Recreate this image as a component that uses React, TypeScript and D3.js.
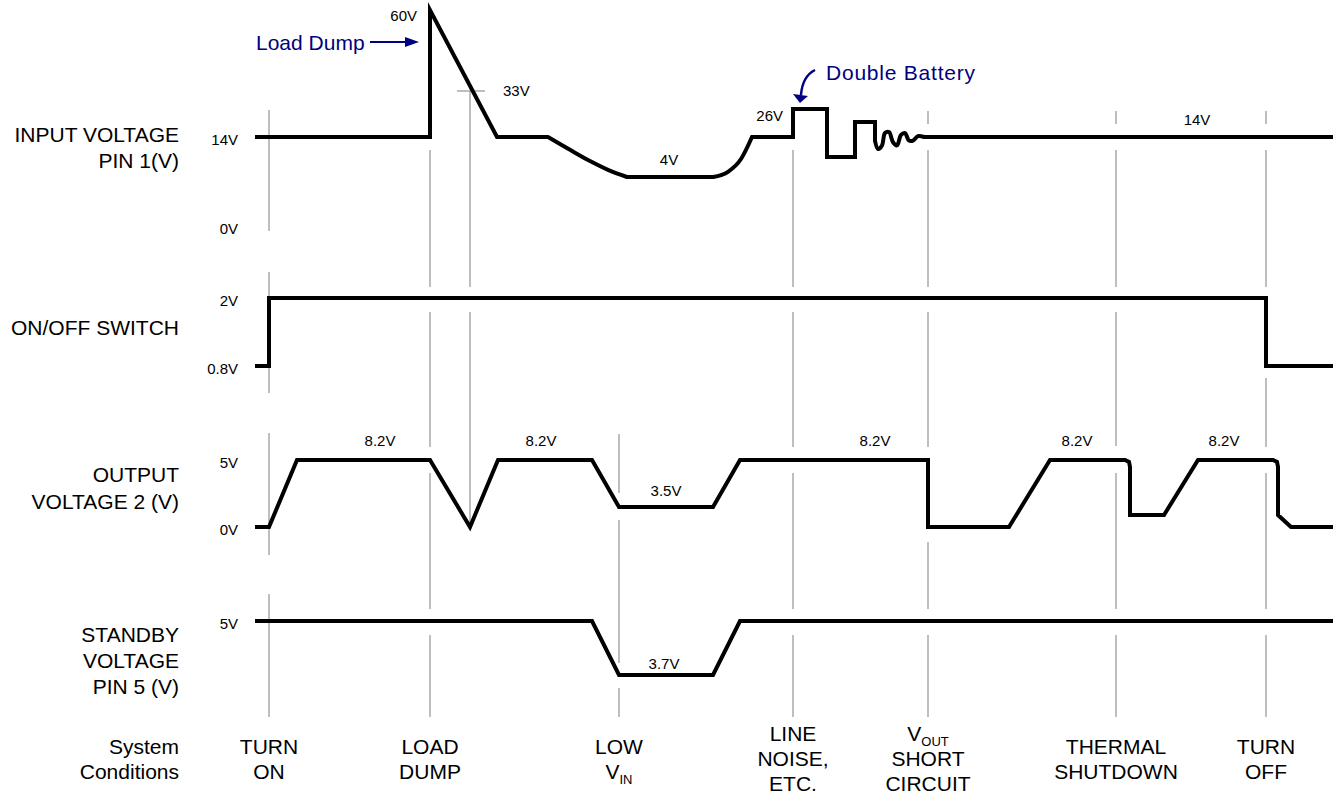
import React from "react";
import * as d3 from "d3";

// ---------- DATA ----------
// time axis in arbitrary units
const timeDomain: [number, number] = [0, 108];

const eventTimes = [1.4, 17.5, 36.4, 53.8, 67.3, 86.1, 101.1];
const markerTime33V = 21.5;

// schematic voltage levels per panel
const inputLevels = [0, 4, 14, 26, 33, 60];
const switchLevels = [0.8, 2];
const outputLevels = [0, 3.5, 5];
const standbyLevels = [3.7, 5];

// input voltage trace (t, V)
const inputMain: [number, number][] = [
  [0, 14], [17.5, 14], [17.5, 60], [24.2, 14], [29.3, 14],
];
const inputSag: [number, number][] = [
  [29.3, 14], [31.5, 10.8], [33.5, 8], [35.3, 5.8], [37.2, 4],
];
const inputLow: [number, number][] = [[37.2, 4], [45.8, 4]];
const inputRecover: [number, number][] = [
  [45.8, 4], [47.3, 5.3], [48.6, 8.5], [49.7, 14],
];
const inputNoise: [number, number][] = [
  [49.7, 14], [53.8, 14], [53.8, 26], [57.2, 26], [57.2, 9], [60.0, 9],
  [60.0, 20.4], [62.0, 20.4], [62.0, 13.1],
];
const inputRinging: [number, number][] = [
  [62.0, 13.1], [62.3, 11.0], [62.7, 11.9], [63.0, 15.7], [63.4, 16.1],
  [63.8, 12.7], [64.2, 11.9], [64.6, 14.9], [65.0, 15.7], [65.4, 13.1],
  [65.8, 13.1], [66.3, 14.4], [66.9, 14],
];
const inputTail: [number, number][] = [[66.9, 14], [107.8, 14]];

const switchTrace: [number, number][] = [
  [0, 0.8], [1.4, 0.8], [1.4, 2], [101.1, 2], [101.1, 0.8], [107.8, 0.8],
];

const outputTrace: [number, number][] = [
  [0, 0], [1.4, 0], [4.2, 5], [17.5, 5], [21.5, 0], [24.3, 5], [33.7, 5],
  [36.4, 3.5], [45.8, 3.5], [48.5, 5], [67.3, 5], [67.3, 0], [75.4, 0],
  [79.5, 5], [87.0, 5], [87.4, 4.94], [87.5, 4.78], [87.5, 2.1], [90.9, 2.1],
  [94.3, 5], [101.8, 5], [102.2, 4.94], [102.3, 4.78], [102.3, 2.1],
  [103.6, 0], [107.8, 0],
];

const standbyTrace: [number, number][] = [
  [0, 5], [33.7, 5], [36.4, 3.7], [45.8, 3.7], [48.5, 5], [107.8, 5],
];

const rowLabels = [
  ["INPUT VOLTAGE", "PIN 1(V)"],
  ["ON/OFF SWITCH"],
  ["OUTPUT", "VOLTAGE 2 (V)"],
  ["STANDBY", "VOLTAGE", "PIN 5 (V)"],
  ["System", "Conditions"],
];

// axis tick labels: [panel, value, label]
const tickLabels: [string, number, string][] = [
  ["in", 14, "14V"], ["in", 0, "0V"],
  ["sw", 2, "2V"], ["sw", 0.8, "0.8V"],
  ["out", 5, "5V"], ["out", 0, "0V"],
  ["sb", 5, "5V"],
];

// annotations: [panel, t, value, text]
const annotations: [string, number, number, string][] = [
  ["in", 41.4, 4, "4V"],
  ["in", 94.2, 14, "14V"],
  ["out", 12.5, 5, "8.2V"],
  ["out", 28.6, 5, "8.2V"],
  ["out", 62.0, 5, "8.2V"],
  ["out", 82.2, 5, "8.2V"],
  ["out", 96.9, 5, "8.2V"],
  ["out", 41.1, 3.5, "3.5V"],
  ["sb", 40.9, 3.7, "3.7V"],
];

// system conditions: lines of [main, subscript]
const conditionLabels: string[][][] = [
  [["TURN"], ["ON"]],
  [["LOAD"], ["DUMP"]],
  [["LOW"], ["V", "IN"]],
  [["LINE"], ["NOISE,"], ["ETC."]],
  [["V", "OUT"], ["SHORT"], ["CIRCUIT"]],
  [["THERMAL"], ["SHUTDOWN"]],
  [["TURN"], ["OFF"]],
];

// ---------- LAYOUT ----------
const W = 1333, H = 793;
const FONT = "Arial, 'Liberation Sans', Helvetica, sans-serif";
const NAVY = "#000080";
const GUIDE = "#a8a8a8";

const rowLabelY = [[134, 160], [327], [474, 501], [634, 660, 686], [746, 771]];
const guideSegments: number[][][] = [
  [[110, 231], [272, 393], [433, 555], [594, 717]],
  [[150, 287], [312, 447], [473, 609], [635, 717]],
  [[434, 493], [520, 663], [688, 717]],
  [[150, 287], [312, 447], [473, 609], [635, 717]],
  [[111, 124], [150, 287], [312, 447], [542, 609], [635, 717]],
  [[111, 124], [150, 287], [312, 446], [473, 609], [635, 717]],
  [[111, 124], [150, 287], [378, 447], [473, 609], [635, 717]],
];
const marker33Segments = [[91, 287], [312, 527]];

export default function App() {
  const x = d3.scaleLinear().domain(timeDomain).range([255, 1335]);
  const yIn = d3.scaleLinear().domain(inputLevels).range([226, 177, 137, 109, 91, 10]);
  const ySw = d3.scaleLinear().domain(switchLevels).range([366, 298]);
  const yOut = d3.scaleLinear().domain(outputLevels).range([527, 507, 460]);
  const ySb = d3.scaleLinear().domain(standbyLevels).range([675, 621]);
  const scales: Record<string, d3.ScaleLinear<number, number>> = {
    in: yIn, sw: ySw, out: yOut, sb: ySb,
  };

  const mk = (ys: d3.ScaleLinear<number, number>, curve: d3.CurveFactory = d3.curveLinear) =>
    d3.line<[number, number]>().x((d) => x(d[0])).y((d) => ys(d[1])).curve(curve);

  const traceStyle = {
    fill: "none",
    stroke: "#000",
    strokeWidth: 4,
    strokeLinejoin: "miter" as const,
    strokeMiterlimit: 10,
  };

  const inputPieces: { pts: [number, number][]; curve: d3.CurveFactory }[] = [
    { pts: inputMain, curve: d3.curveLinear },
    { pts: inputSag, curve: d3.curveMonotoneX },
    { pts: inputLow, curve: d3.curveLinear },
    { pts: inputRecover, curve: d3.curveMonotoneX },
    { pts: inputNoise, curve: d3.curveLinear },
    { pts: inputRinging, curve: d3.curveCatmullRom },
    { pts: inputTail, curve: d3.curveLinear },
  ];

  const x33 = x(markerTime33V);
  const y33 = yIn(33);

  return (
    <svg
      width={W}
      height={H}
      viewBox={`0 0 ${W} ${H}`}
      style={{ position: "absolute", left: 0, top: 0, background: "#fff" }}
      fontFamily={FONT}
    >
      <rect x={0} y={0} width={W} height={H} fill="#fff" />
      {/* guide lines */}
      <g stroke={GUIDE} strokeWidth={1.5}>
        {eventTimes.map((t, i) =>
          guideSegments[i].map((s, j) => (
            <line key={`g${i}-${j}`} x1={x(t)} x2={x(t)} y1={s[0]} y2={s[1]} />
          ))
        )}
        {marker33Segments.map((s, j) => (
          <line key={`m${j}`} x1={x33} x2={x33} y1={s[0]} y2={s[1]} />
        ))}
        <line x1={x33 - 13} x2={x33 + 15} y1={y33} y2={y33} />
      </g>

      {/* traces */}
      {inputPieces.map((p, i) => (
        <path key={`in${i}`} d={mk(yIn, p.curve)(p.pts) || ""} {...traceStyle}
          strokeLinecap={i === 0 || i === inputPieces.length - 1 ? "butt" : "round"} />
      ))}
      <path d={mk(ySw)(switchTrace) || ""} {...traceStyle} />
      <path d={mk(yOut)(outputTrace) || ""} {...traceStyle} />
      <path d={mk(ySb)(standbyTrace) || ""} {...traceStyle} />

      {/* row labels */}
      <g fontSize={21} fill="#000" textAnchor="end">
        {rowLabels.map((lines, i) =>
          lines.map((s, j) => (
            <text key={`r${i}-${j}`} x={179} y={rowLabelY[i][j] + 7.5}>{s}</text>
          ))
        )}
      </g>

      {/* tick labels */}
      <g fontSize={15} fill="#000" textAnchor="end">
        {tickLabels.map(([p, v, s], i) => (
          <text key={`t${i}`} x={238} y={scales[p](v) + 8}>{s}</text>
        ))}
      </g>

      {/* annotations */}
      <g fontSize={15} fill="#000" textAnchor="middle">
        {annotations.map(([p, t, v, s], i) => (
          <text key={`a${i}`} x={x(t)} y={scales[p](v) - (p === "sb" ? 6 : p === "out" ? (v === 5 ? 14 : 11) : 12)}>{s}</text>
        ))}
        <text x={x(17.5) - 13} y={yIn(60) + 11} textAnchor="end">60V</text>
        <text x={x33 + 33} y={y33 + 5} textAnchor="start">33V</text>
        <text x={x(53.8) - 10} y={yIn(26) + 12} textAnchor="end">26V</text>
      </g>

      {/* Load Dump callout */}
      <g fill={NAVY}>
        <text x={256} y={49.5} fontSize={21}>Load Dump</text>
        <line x1={370} x2={408} y1={42} y2={42} stroke={NAVY} strokeWidth={2} />
        <polygon points="405,37 419,42 405,47" />
      </g>

      {/* Double Battery callout */}
      <g fill={NAVY}>
        <text x={826} y={79.5} fontSize={21} textLength={149} lengthAdjust="spacing">Double Battery</text>
        <path d="M815,70 C807,74 802,82 801,95" stroke={NAVY} strokeWidth={2.5} fill="none" />
        <polygon points="793,94 808,96 800,103" />
      </g>

      {/* system conditions */}
      <g fontSize={21} fill="#000" textAnchor="middle">
        {conditionLabels.map((lines, i) => {
          const starts = lines.length === 3 ? [733, 758, 783] : [746, 771];
          return lines.map((ln, j) => (
            <text key={`c${i}-${j}`} x={x(eventTimes[i])} y={starts[j] + 7.5}>
              {ln[0]}
              {ln[1] ? <tspan fontSize={13} dy={5}>{ln[1]}</tspan> : null}
            </text>
          ));
        })}
      </g>
    </svg>
  );
}
